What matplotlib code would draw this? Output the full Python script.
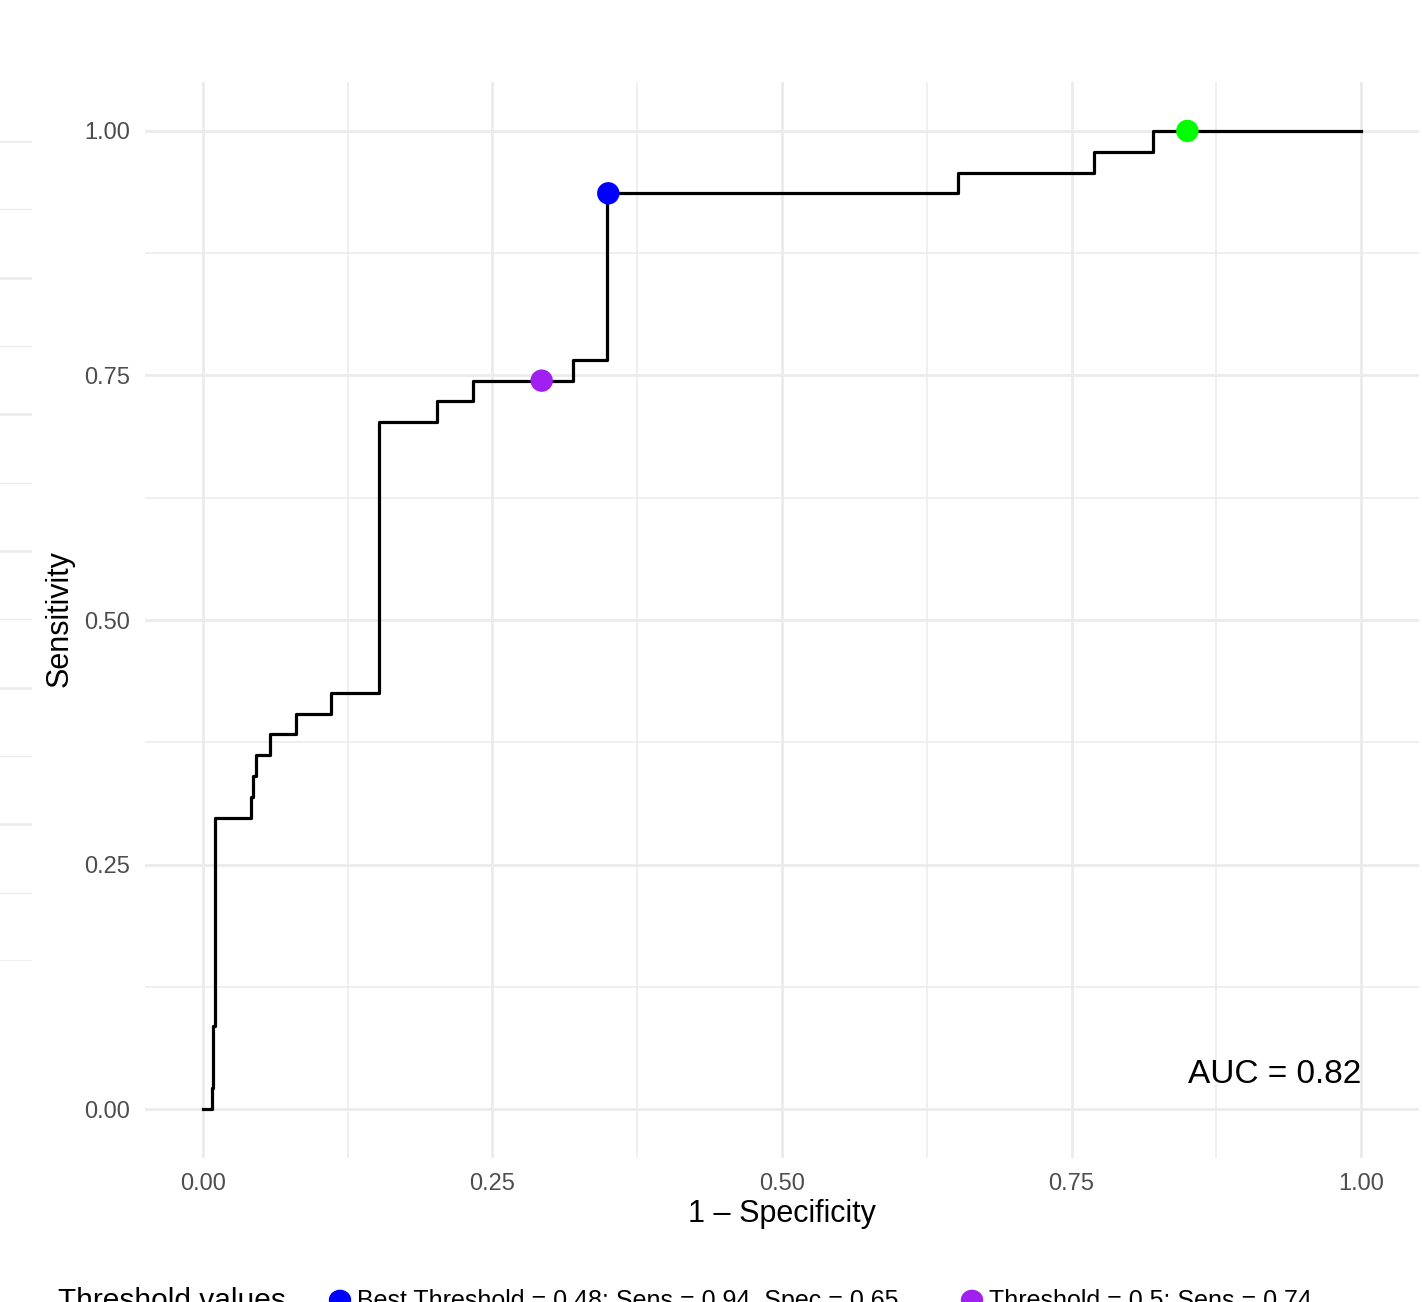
import matplotlib
matplotlib.use("Agg")
import matplotlib.pyplot as plt

# ROC curve corner points (1 - specificity, sensitivity), drawn as post steps
fpr = [0, 0.0075, 0.0089, 0.0104, 0.0415, 0.0435, 0.0455, 0.0579, 0.0803, 0.111,
       0.152, 0.2018, 0.2329, 0.3193, 0.3491, 0.652, 0.769, 0.820, 1.0]
tpr = [0, 0.0213, 0.0851, 0.2979, 0.3191, 0.3404, 0.3617, 0.383, 0.4043, 0.4255,
       0.7021, 0.7234, 0.7447, 0.766, 0.9362, 0.9574, 0.9787, 1.0, 1.0]

# highlighted thresholds
pt_labels = ["Best Threshold = 0.48: Sens = 0.94, Spec = 0.65",
             "Threshold = 0.5: Sens = 0.74"]
pt_x = [0.35, 0.2925, 0.85]
pt_y = [0.9362, 0.7447, 1.0]
pt_colors = ["#0000FF", "#A020F0", "#00FF00"]

ticks = [0, 0.25, 0.5, 0.75, 1.0]
tick_labels = ["0.00", "0.25", "0.50", "0.75", "1.00"]
auc_text = "AUC = 0.82"

plt.rcParams["font.family"] = ["Liberation Sans", "DejaVu Sans"]

W, H = 1422, 1302
fig = plt.figure(figsize=(W / 100, H / 100), dpi=100)

# leftover grid strip of a neighbouring panel at the left edge
strip = fig.add_axes([0, 1 - 961 / H, 32 / W, (961 - 141) / H])
strip.set_xlim(0, 1)
strip.set_ylim(0, 12)
for i in range(13):
    strip.axhline(i, color="#EBEBEB", lw=1.0 if i % 2 else 1.8, zorder=0)
strip.axis("off")

ax = fig.add_axes([145 / W, 1 - 1158 / H, 1274 / W, (1158 - 82) / H])
ax.set_xlim(-0.05, 1.05)
ax.set_ylim(-0.05, 1.05)
for s in ax.spines.values():
    s.set_visible(False)

ax.set_xticks(ticks)
ax.set_xticklabels(tick_labels)
ax.set_yticks(ticks)
ax.set_yticklabels(tick_labels)
ax.set_xticks([0.125, 0.375, 0.625, 0.875], minor=True)
ax.set_yticks([0.125, 0.375, 0.625, 0.875], minor=True)
ax.tick_params(which="both", length=0)
ax.tick_params(axis="both", labelsize=17, labelcolor="#4D4D4D", pad=11)
ax.grid(which="major", color="#EBEBEB", lw=2.0)
ax.grid(which="minor", color="#EBEBEB", lw=1.1)
ax.set_axisbelow(True)

ax.step(fpr, tpr, where="post", color="black", lw=2.3, zorder=3)
ax.scatter(pt_x, pt_y, s=260, c=pt_colors, edgecolors="none", zorder=4)

ax.text(1.0, 0.035, auc_text, ha="right", va="center", fontsize=24,
        color="black")

fig.text(782 / W, 1 - 1214 / H, "1 \u2013 Specificity", ha="center", va="center",
         fontsize=22)
fig.text(60 / W, 1 - 619 / H, "Sensitivity", ha="center", va="center",
         rotation=90, fontsize=22)

# legend at the bottom, cut by the figure edge as in the reference
fig.text(58 / W, 1 - 1309 / H, "Threshold values", ha="left", va="baseline",
         fontsize=21.5)
key_x = [340, 972]
for kx, lab, col in zip(key_x, pt_labels, pt_colors):
    fig.patches.append(plt.Circle((kx / W, 1 - 1300 / H), 10.5 / W,
                                  transform=fig.transFigure, color=col,
                                  figure=fig))
    fig.text((kx + 17) / W, 1 - 1308 / H, lab, ha="left", va="baseline",
             fontsize=18)

fig.savefig("out.png", dpi=100)
